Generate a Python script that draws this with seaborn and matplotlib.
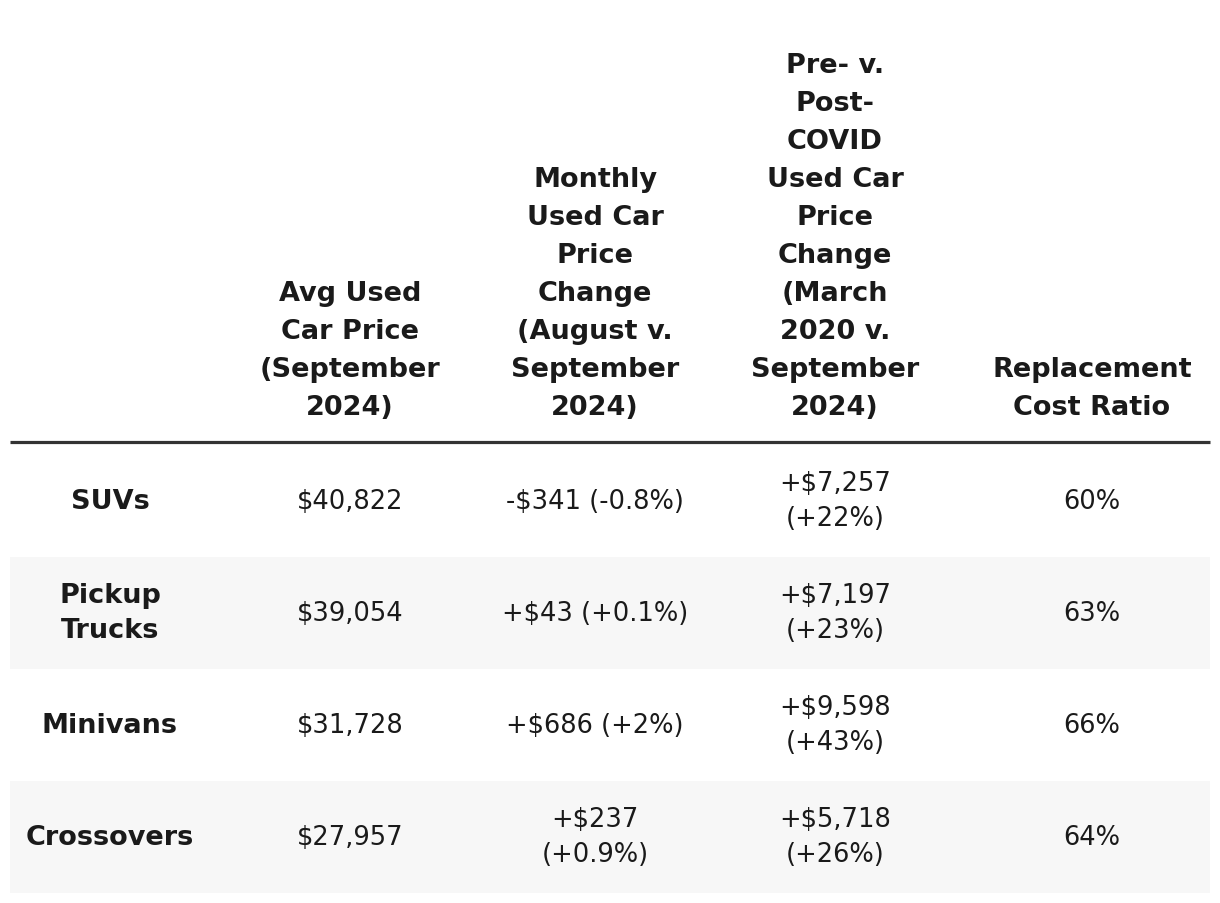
import matplotlib.pyplot as plt
import seaborn as sns

# Table content
categories = ['SUVs', 'Pickup\nTrucks', 'Minivans', 'Crossovers']
avg_price = ['$40,822', '$39,054', '$31,728', '$27,957']
monthly_change = ['-$341 (-0.8%)', '+$43 (+0.1%)', '+$686 (+2%)', '+$237\n(+0.9%)']
covid_change = ['+$7,257\n(+22%)', '+$7,197\n(+23%)', '+$9,598\n(+43%)', '+$5,718\n(+26%)']
replacement_ratio = ['60%', '63%', '66%', '64%']
headers = ['',
           'Avg Used\nCar Price\n(September\n2024)',
           'Monthly\nUsed Car\nPrice\nChange\n(August v.\nSeptember\n2024)',
           'Pre- v.\nPost-\nCOVID\nUsed Car\nPrice\nChange\n(March\n2020 v.\nSeptember\n2024)',
           'Replacement\nCost Ratio']

sns.set_theme(style='white')
plt.rcParams['font.family'] = ['DejaVu Sans']

text_color = '#1a1a1a'
col_x = [110, 350, 595, 835, 1092]
row_top = 446
row_h = 112

fig = plt.figure(figsize=(12.2, 9.04), dpi=100)
ax = fig.add_axes([0, 0, 1, 1])
ax.set_xlim(0, 1220)
ax.set_ylim(904, 0)
ax.axis('off')

# header
for x, h in zip(col_x, headers):
    if h:
        ax.text(x, 421, h, ha='center', va='bottom', fontsize=19.5,
                fontweight='bold', color=text_color, linespacing=1.6)
ax.plot([10, 1210], [443, 443], color='#333333', lw=2.3, solid_capstyle='butt')

# body rows
columns = [categories, avg_price, monthly_change, covid_change, replacement_ratio]
for i in range(len(categories)):
    y0 = row_top + i * row_h
    if i % 2 == 1:
        ax.axhspan(y0, y0 + row_h, xmin=10 / 1220, xmax=1210 / 1220,
                   color='#f7f7f7', lw=0, zorder=0)
    yc = y0 + row_h / 2
    for j, col in enumerate(columns):
        ax.text(col_x[j], yc, col[i], ha='center', va='center',
                fontsize=19.5 if j == 0 else 18.5,
                fontweight='bold' if j == 0 else 'normal',
                color=text_color, linespacing=1.45)

fig.savefig('out.png', dpi=100, facecolor='white')
